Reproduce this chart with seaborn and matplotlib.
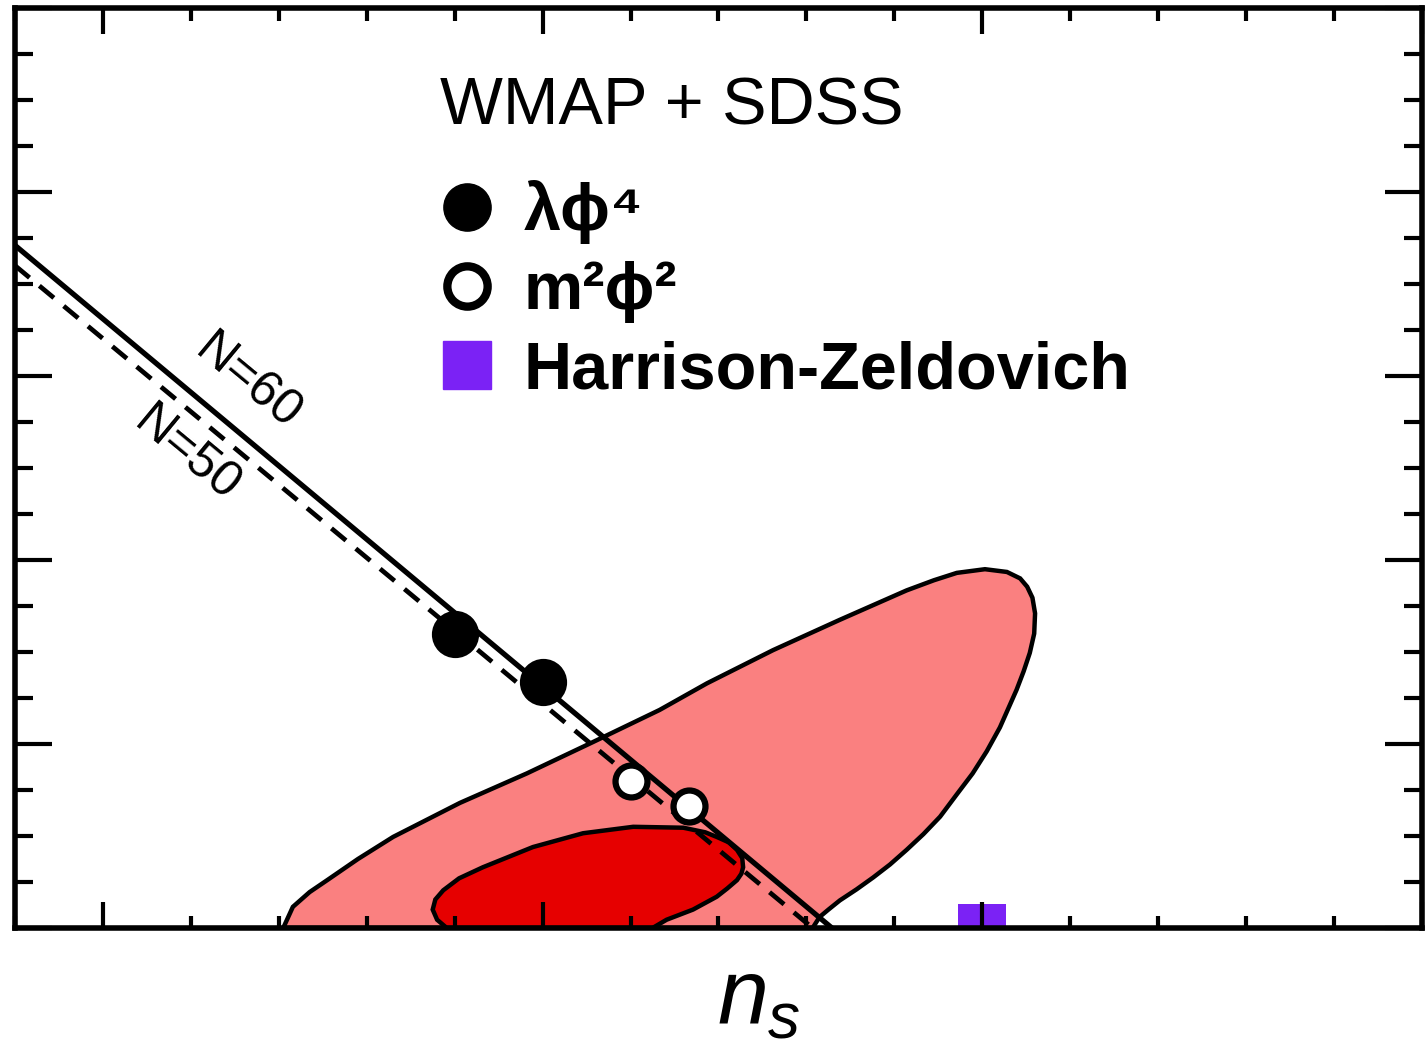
import matplotlib
matplotlib.use("Agg")
import matplotlib.pyplot as plt
from matplotlib.lines import Line2D
from matplotlib.ticker import MultipleLocator
import seaborn as sns

# 95% contour (light): n_s, r
outer_ns = [0.9205, 0.9216, 0.9235, 0.9255, 0.9290, 0.9330, 0.9406, 0.9482, 0.9557, 0.9633,
            0.9687, 0.9762, 0.9838, 0.9914, 0.9945, 0.9971, 1.0003, 1.0028, 1.0043, 1.0051,
            1.0057, 1.0060, 1.0059, 1.0054, 1.0047, 1.0039, 1.0020, 1.0005, 0.9989, 0.9970,
            0.9952, 0.9933, 0.9914, 0.9895, 0.9876, 0.9857, 0.9838, 0.9825, 0.9815, 0.9807]
outer_r = [0.000, 0.023, 0.039, 0.052, 0.075, 0.099, 0.136, 0.168, 0.202, 0.237,
           0.266, 0.302, 0.335, 0.367, 0.378, 0.386, 0.390, 0.387, 0.380, 0.371,
           0.359, 0.342, 0.320, 0.299, 0.279, 0.259, 0.218, 0.192, 0.168, 0.144,
           0.121, 0.102, 0.085, 0.069, 0.055, 0.042, 0.030, 0.020, 0.012, 0.000]

# 68% contour (dark)
inner_ns = [0.9391, 0.9380, 0.9375, 0.9378, 0.9387, 0.9405, 0.9432, 0.9489, 0.9546, 0.9603,
            0.9660, 0.9685, 0.9698, 0.9712, 0.9721, 0.9727, 0.9728, 0.9726, 0.9721, 0.9710,
            0.9698, 0.9671, 0.9641, 0.9625]
inner_r = [0.000, 0.009, 0.020, 0.031, 0.041, 0.054, 0.066, 0.088, 0.103, 0.110,
           0.109, 0.104, 0.099, 0.093, 0.085, 0.076, 0.066, 0.059, 0.052, 0.043,
           0.034, 0.020, 0.009, 0.000]

# N = 60 and N = 50 lines (end points)
n60_ns = [0.890, 0.9829]
n60_r = [0.742, 0.0]
n50_ns = [0.890, 0.9807]
n50_r = [0.720, 0.0]

# model points
lphi4_ns = [0.940, 0.950]
lphi4_r = [0.320, 0.267]
m2phi2_ns = [0.960, 0.9667]
m2phi2_r = [0.160, 0.133]
hz_ns = [1.0]
hz_r = [0.0]

legend_labels = ["λϕ⁴", "m²ϕ²", "Harrison-Zeldovich"]
legend_title = "WMAP + SDSS"

light = "#FA8080"
dark = "#E60000"
purple = "#7B22F5"

sns.set_theme(style="ticks")
plt.rcParams["font.family"] = ["Liberation Sans", "DejaVu Sans"]
plt.rcParams["text.color"] = "black"
plt.rcParams["axes.labelcolor"] = "black"
plt.rcParams["mathtext.fontset"] = "custom"
plt.rcParams["mathtext.it"] = "Liberation Sans:italic"
plt.rcParams["mathtext.rm"] = "Liberation Sans"

fig = plt.figure(figsize=(14.26, 10.56), dpi=100)
ax = fig.add_axes([15 / 1426, 1 - 928 / 1056, 1407 / 1426, 920 / 1056])

ax.fill(outer_ns, outer_r, facecolor=light, edgecolor="black", linewidth=3.2, zorder=1)
ax.fill(inner_ns, inner_r, facecolor=dark, edgecolor="black", linewidth=3.2, zorder=1.1)

sns.lineplot(x=n60_ns, y=n60_r, color="black", linewidth=3.8, estimator=None, ax=ax, zorder=2)
sns.lineplot(x=n50_ns, y=n50_r, color="black", linewidth=3.4, estimator=None, ax=ax, zorder=2)
ax.lines[-1].set_dashes((4, 2.7))

sns.scatterplot(x=hz_ns, y=hz_r, color=purple, marker="s", s=34 ** 2, linewidth=0,
                ax=ax, zorder=2.2)
sns.scatterplot(x=lphi4_ns, y=lphi4_r, color="black", edgecolor="black", s=34 ** 2,
                linewidth=0, ax=ax, zorder=3)
sns.scatterplot(x=m2phi2_ns, y=m2phi2_r, color="white", edgecolor="black", s=23 ** 2,
                linewidth=4.5, ax=ax, zorder=3)

ax.text(0.9165, 0.593, "N=60", rotation=-39.6, rotation_mode="anchor", ha="center",
        va="center", fontsize=36)
ax.text(0.9095, 0.515, "N=50", rotation=-39.6, rotation_mode="anchor", ha="center",
        va="center", fontsize=36)

ax.text(0.302, 0.873, legend_title, transform=ax.transAxes, fontsize=48, va="baseline")
handles = [
    Line2D([], [], ls="", marker="o", ms=34, mfc="black", mec="black"),
    Line2D([], [], ls="", marker="o", ms=29, mfc="white", mec="black", mew=6),
    Line2D([], [], ls="", marker="s", ms=34, mfc=purple, mec=purple),
]
ax.legend(handles, legend_labels, loc="upper left",
          bbox_to_anchor=(0.302, 0.813), frameon=False,
          prop={"weight": "bold", "size": 48},
          handlelength=0.8, handletextpad=0.45, labelspacing=0.26,
          borderpad=0, borderaxespad=0)

ax.set_xlim(0.89, 1.05)
ax.set_ylim(0, 1.0)
ax.xaxis.set_major_locator(MultipleLocator(0.05))
ax.xaxis.set_minor_locator(MultipleLocator(0.01))
ax.yaxis.set_major_locator(MultipleLocator(0.2))
ax.yaxis.set_minor_locator(MultipleLocator(0.05))
ax.tick_params(axis="both", which="both", direction="in", top=True, right=True,
               labelbottom=False, labelleft=False, width=3, color="black")
ax.tick_params(axis="x", which="major", length=19)
ax.tick_params(axis="x", which="minor", length=9)
ax.tick_params(axis="y", which="major", length=26.5)
ax.tick_params(axis="y", which="minor", length=13)
ax.set_axisbelow(False)
for sp in ax.spines.values():
    sp.set_linewidth(4)
    sp.set_color("black")

ax.set_xlabel("$n_s$", fontsize=66, color="black")
ax.xaxis.set_label_coords(0.529, -0.031)
ax.set_ylabel("")

fig.savefig("out.png", dpi=100)
